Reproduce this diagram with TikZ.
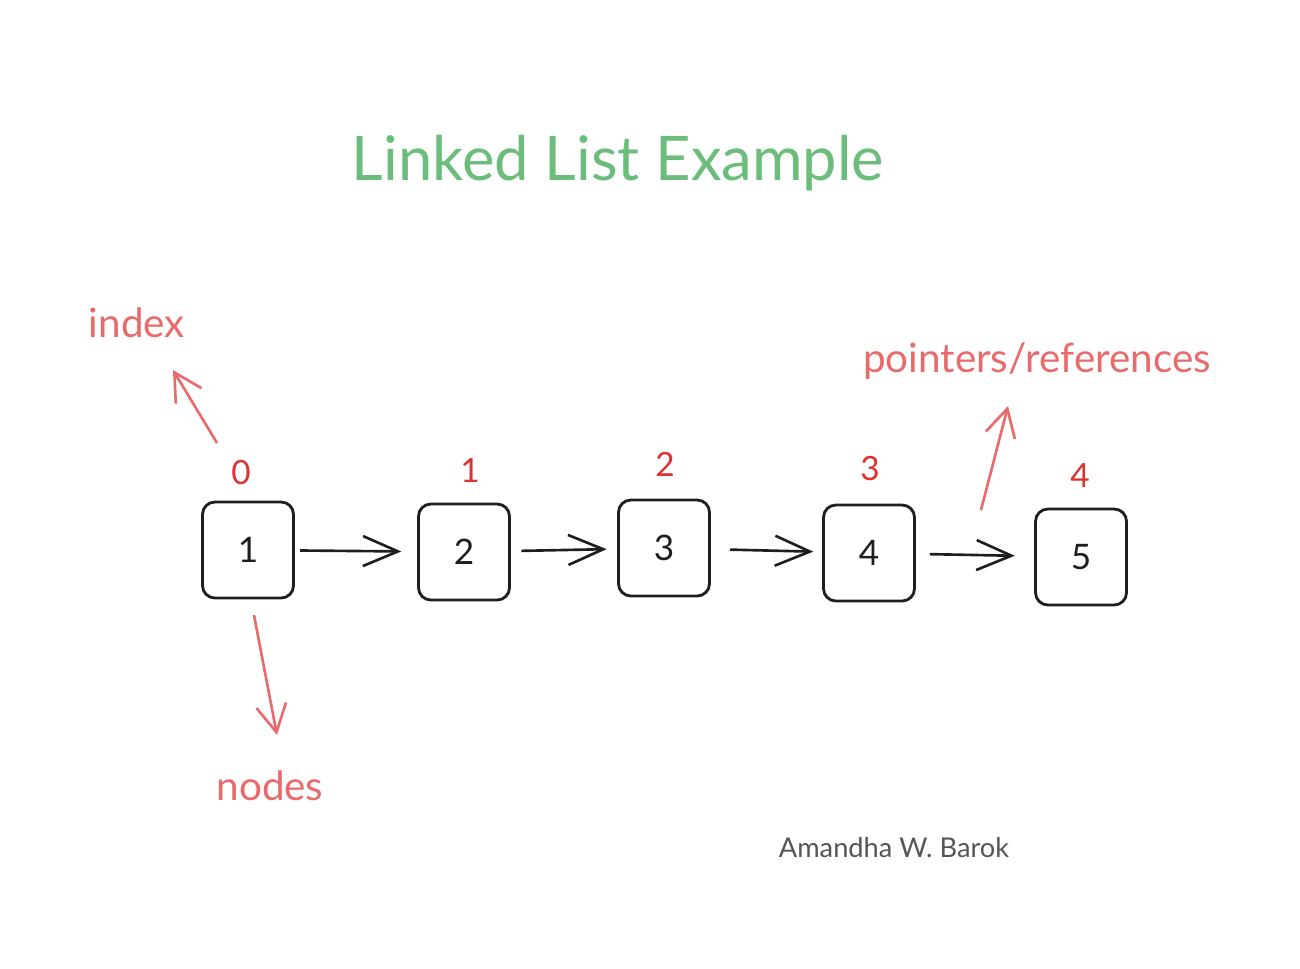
\documentclass[tikz,border=0pt]{standalone}
\usepackage{fontspec}
\setmainfont{Lato}
\usetikzlibrary{arrows.meta,positioning}

\begin{document}
\begin{tikzpicture}[x=0.02cm, y=-0.02cm,
    box/.style={draw=inkColor, line width=1.6pt, rounded corners=7pt, minimum width=1.82cm, minimum height=1.92cm, font=\fontsize{20}{24}\selectfont, text=inkColor},
    idx/.style={text=idxColor, font=\fontsize{19}{22}\selectfont},
    note/.style={text=noteColor, font=\fontsize{23}{27}\selectfont},
    link/.style={draw=inkColor, line width=1.5pt, -{Straight Barb[length=0.7cm, width=0.6cm, line width=1.5pt]}},
    hint/.style={draw=noteColor, line width=1.5pt, -{Straight Barb[length=0.55cm, width=0.6cm, line width=1.5pt]}}]
    % Palette
    \definecolor{titleColor}{HTML}{6BBD7B}
    \definecolor{inkColor}{HTML}{1E1E1E}
    \definecolor{idxColor}{HTML}{E03131}
    \definecolor{noteColor}{HTML}{E86A6A}
    \definecolor{signColor}{HTML}{555555}

    \useasboundingbox (0,0) rectangle (1300,968);

    % --- Title ---
    \node[anchor=base, text=titleColor, font=\fontsize{35}{42}\selectfont] (title) at (618,180) {Linked List Example};

    % --- List ---
    \node[box] (n1) at (248,550) {1};
    \node[box] (n2) at (464,552) {2};
    \node[box] (n3) at (664,548) {3};
    \node[box] (n4) at (869,553) {4};
    \node[box] (n5) at (1081,557) {5};

    \node[idx] (i0) at (241,473) {0};
    \node[idx] (i1) at (470,470) {1};
    \node[idx] (i2) at (665,464) {2};
    \node[idx] (i3) at (870,469) {3};
    \node[idx] (i4) at (1080,476) {4};

    \draw[link, shorten <=3pt, shorten >=9pt] (n1) -- (n2);
    \draw[link, shorten <=6pt, shorten >=6pt] (n2) -- (n3);
    \draw[link, shorten <=11pt, shorten >=5pt] (n3) -- (n4);
    \draw[link, shorten <=8pt, shorten >=11pt] (n4) -- (n5);

    % --- Notes ---
    \node[note, anchor=base] (lindex) at (137,337) {index};
    \node[note, anchor=base] (lnodes) at (270,800) {nodes};
    \node[note, anchor=base] (lrefs) at (1037,372) {pointers/references};
    \node[anchor=base, text=signColor, font=\fontsize{15.5}{18}\selectfont] (sign) at (894,857) {Amandha W. Barok};

    \coordinate (a1) at (217,443);
    \coordinate (a1t) at (173,370);
    \coordinate (a2) at (254,615);
    \coordinate (a2t) at (277,735);
    \coordinate (a3) at (981,510);
    \coordinate (a3t) at (1008,406);
    \draw[hint] (a1) -- (a1t);
    \draw[hint] (a2) -- (a2t);
    \draw[hint] (a3) -- (a3t);

\end{tikzpicture}
\end{document}
